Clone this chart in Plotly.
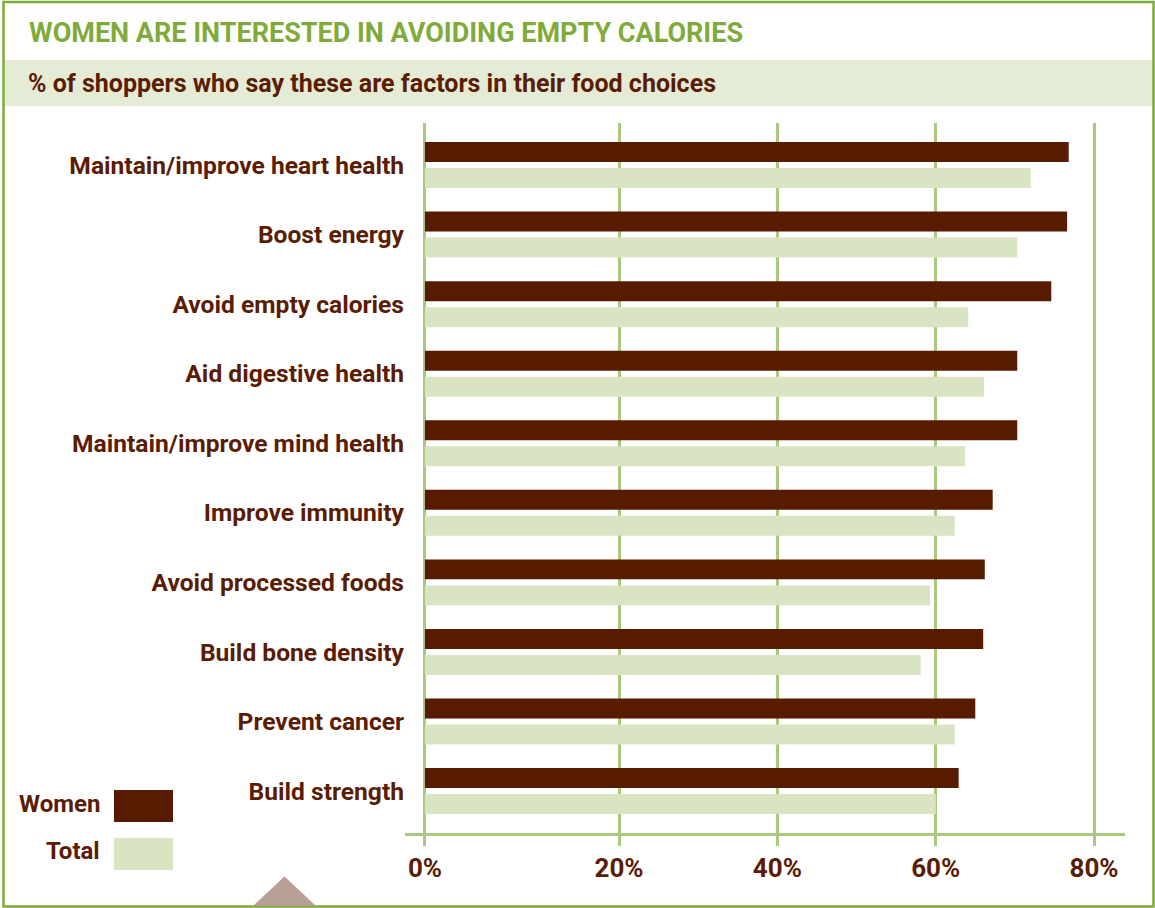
import plotly.graph_objects as go

# ---------------- data ----------------
categories = [
    "Maintain/improve heart health",
    "Boost energy",
    "Avoid empty calories",
    "Aid digestive health",
    "Maintain/improve mind health",
    "Improve immunity",
    "Avoid processed foods",
    "Build bone density",
    "Prevent cancer",
    "Build strength",
]
women = [76.8, 76.6, 74.6, 70.3, 70.3, 67.2, 66.2, 66.0, 65.0, 62.9]
total = [72.0, 70.3, 64.1, 66.1, 63.7, 62.4, 59.3, 58.1, 62.4, 60.0]
tick_vals = [20, 40, 60, 80]
tick_labels = ["0%", "20%", "40%", "60%", "80%"]
series_names = ["Women", "Total"]

# ---------------- style ----------------
W, H = 1155, 908
ML, MR, MT, MB = 405, 30, 123, 75
PW, PH = W - ML - MR, H - MT - MB
X_RANGE = [-7.03, 83.91]
ZERO_LINE = -4.51          # where the reference draws its "0%" baseline
BROWN = "#561b00"
TEXT_BROWN = "#5a1c03"
LIGHT = "#d9e4c3"
GREEN = "#80ab3a"
GRID = "#a9c97d"
BAND = "#e4ecd5"
FONT = "Roboto, 'Liberation Sans', Arial, sans-serif"
TITLE_FONT = "'Liberation Sans Narrow', 'Arial Narrow', Roboto, sans-serif"


def px2x(px):
    return (px - ML) / PW


def py2y(py):
    return (H - MB - py) / PH


fig = go.Figure()
colors = [BROWN, LIGHT]
for name, vals, col in zip(series_names, [women, total], colors):
    fig.add_trace(go.Bar(
        name=name,
        y=categories,
        x=[v - ZERO_LINE for v in vals],
        base=ZERO_LINE,
        orientation="h",
        marker=dict(color=col, line=dict(width=0)),
        showlegend=False,
    ))

shapes = [
    # subtitle band
    dict(type="rect", xref="paper", yref="paper",
         x0=px2x(4), x1=px2x(1153), y0=py2y(106), y1=py2y(60),
         fillcolor=BAND, line=dict(width=0), layer="below"),
    # outer frame
    dict(type="rect", xref="paper", yref="paper",
         x0=px2x(3.5), x1=px2x(1153.5), y0=py2y(906.5), y1=py2y(2),
         fillcolor="rgba(0,0,0,0)", line=dict(color="#7daa3c", width=2.5)),
    # legend swatches
    dict(type="rect", xref="paper", yref="paper",
         x0=px2x(114), x1=px2x(173), y0=py2y(822), y1=py2y(790),
         fillcolor=BROWN, line=dict(width=0)),
    dict(type="rect", xref="paper", yref="paper",
         x0=px2x(114), x1=px2x(173), y0=py2y(870), y1=py2y(838),
         fillcolor=LIGHT, line=dict(width=0)),
    # decorative triangle
    dict(type="path", xref="paper", yref="paper",
         path="M {} {} L {} {} L {} {} Z".format(
             px2x(253), py2y(906), px2x(284.5), py2y(876.5), px2x(316), py2y(906)),
         fillcolor="#b9a096", line=dict(width=0)),
]

annotations = [
    dict(text="<b>WOMEN ARE INTERESTED IN AVOIDING EMPTY CALORIES</b>",
         xref="paper", yref="paper", x=px2x(27), y=py2y(33),
         xanchor="left", yanchor="middle", showarrow=False,
         font=dict(family=TITLE_FONT, size=27, color=GREEN)),
    dict(text="<b>% of shoppers who say these are factors in their food choices</b>",
         xref="paper", yref="paper", x=px2x(26), y=py2y(83),
         xanchor="left", yanchor="middle", showarrow=False,
         font=dict(family=FONT, size=25, color=TEXT_BROWN)),
    dict(text="<b>Women</b>", xref="paper", yref="paper", x=px2x(102), y=py2y(804),
         xanchor="right", yanchor="middle", showarrow=False,
         font=dict(family=FONT, size=24, color=TEXT_BROWN)),
    dict(text="<b>Total</b>", xref="paper", yref="paper", x=px2x(102), y=py2y(851),
         xanchor="right", yanchor="middle", showarrow=False,
         font=dict(family=FONT, size=24, color=TEXT_BROWN)),
]

fig.update_layout(
    width=W, height=H,
    margin=dict(l=ML, r=MR, t=MT, b=MB, pad=0),
    paper_bgcolor="white", plot_bgcolor="white",
    barmode="group", bargap=0.2525, bargroupgap=0.2308,
    shapes=shapes, annotations=annotations,
    font=dict(family=FONT, color=TEXT_BROWN),
    xaxis=dict(
        range=X_RANGE,
        tickvals=[ZERO_LINE] + tick_vals,
        ticktext=["<b>%s</b>" % t for t in tick_labels],
        showgrid=True, gridcolor=GRID, gridwidth=3,
        zeroline=False,
        showline=True, linecolor=GRID, linewidth=3,
        ticks="outside", ticklen=10, tickwidth=3, tickcolor=GRID,
        tickfont=dict(family=FONT, size=26, color=TEXT_BROWN),
        fixedrange=True,
    ),
    yaxis=dict(
        type="category",
        range=[9.603, -0.604],
        showgrid=False, zeroline=False, showline=False,
        ticks="",
        tickfont=dict(family=FONT, size=24.6, color=TEXT_BROWN),
        tickvals=categories,
        ticktext=["<b>%s</b>" % c for c in categories],
        fixedrange=True,
    ),
)

fig.write_html("out.html", config={"displayModeBar": False})
